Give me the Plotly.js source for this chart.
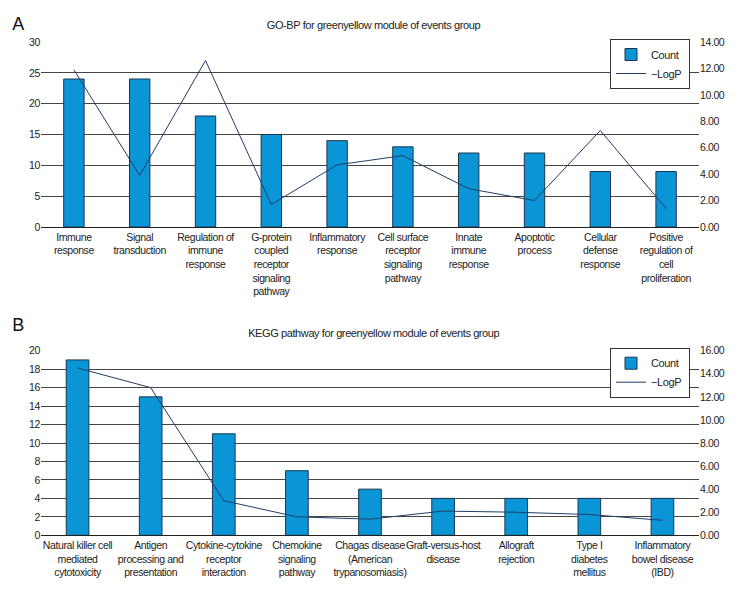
<!DOCTYPE html>
<html>
<head>
<meta charset="utf-8">
<script src="https://cdn.plot.ly/plotly-3.0.1.min.js"></script>
<style>
html,body{margin:0;padding:0;background:#fff;}
#chart{width:756px;height:600px;}
#chart svg text{letter-spacing:-0.4px;}
</style>
</head>
<body>
<div id="chart"></div>
<script>
// Panel A: GO-BP
const categoriesA = [
  "Immune<br>response",
  "Signal<br>transduction",
  "Regulation of<br>immune<br>response",
  "G-protein<br>coupled<br>receptor<br>signaling<br>pathway",
  "Inflammatory<br>response",
  "Cell surface<br>receptor<br>signaling<br>pathway",
  "Innate<br>immune<br>response",
  "Apoptotic<br>process",
  "Cellular<br>defense<br>response",
  "Positive<br>regulation of<br>cell<br>proliferation"
];
const countA = [24, 24, 18, 15, 14, 13, 12, 12, 9, 9];
const logPA = [11.9, 3.9, 12.6, 1.7, 4.7, 5.4, 2.9, 2.0, 7.3, 1.4];

// Panel B: KEGG
const categoriesB = [
  "Natural killer cell<br>mediated<br>cytotoxicity",
  "Antigen<br>processing and<br>presentation",
  "Cytokine-cytokine<br>receptor<br>interaction",
  "Chemokine<br>signaling<br>pathway",
  "Chagas disease<br>(American<br>trypanosomiasis)",
  "Graft-versus-host<br>disease",
  "Allograft<br>rejection",
  "Type I<br>diabetes<br>mellitus",
  "Inflammatory<br>bowel disease<br>(IBD)"
];
const countB = [19, 15, 11, 7, 5, 4, 4, 4, 4];
const logPB = [14.5, 12.8, 3.0, 1.6, 1.4, 2.1, 2.0, 1.8, 1.3];

const titleA = "GO-BP for greenyellow module of events group";
const titleB = "KEGG pathway for greenyellow module of events group";

const FONT = "Liberation Sans, Arial, sans-serif";
const barColor = "#0a96d6";
const barLine = "#1d3550";
const lineColor = "#1f3d66";
const gridColor = "#444";

const traces = [
  {type: "bar", x: categoriesA, y: countA, name: "Count", xaxis: "x", yaxis: "y",
   marker: {color: barColor, line: {color: barLine, width: 1}}, legend: "legend"},
  {type: "scatter", mode: "lines", x: categoriesA, y: logPA, name: "\u2212LogP", xaxis: "x", yaxis: "y2",
   line: {color: lineColor, width: 1}, legend: "legend"},
  {type: "bar", x: categoriesB, y: countB, name: "Count", xaxis: "x2", yaxis: "y3",
   marker: {color: barColor, line: {color: barLine, width: 1}}, legend: "legend2"},
  {type: "scatter", mode: "lines", x: categoriesB, y: logPB, name: "\u2212LogP", xaxis: "x2", yaxis: "y4",
   line: {color: lineColor, width: 1}, legend: "legend2"}
];

const xDom = [41/756, 699/756];
const yDomA = [1 - 227/600, 1 - 42/600];
const yDomB = [1 - 535.3/600, 1 - 350.7/600];

const tickFont = {family: FONT, size: 10.5, color: "#222"};
const baseY = {showgrid: true, gridcolor: gridColor, gridwidth: 1, zeroline: false,
  showline: false, ticks: "", tickfont: tickFont, automargin: false, fixedrange: true};
const baseX = {showgrid: false, zeroline: false, showline: true, linecolor: "#222", linewidth: 1,
  ticks: "", tickfont: tickFont, automargin: false, tickangle: 0, fixedrange: true};

const legendBase = {bgcolor: "#fff", bordercolor: "#333", borderwidth: 1,
  font: {family: FONT, size: 11, color: "#222"}, xanchor: "right", yanchor: "top",
  tracegroupgap: 0, itemwidth: 30};

const layout = {
  width: 756, height: 600,
  margin: {l: 0, r: 0, t: 0, b: 0},
  paper_bgcolor: "#fff", plot_bgcolor: "#fff",
  font: {family: FONT, size: 11, color: "#222"},
  bargap: 0.69,
  xaxis: Object.assign({}, baseX, {domain: xDom, anchor: "y"}),
  yaxis: Object.assign({}, baseY, {domain: yDomA, anchor: "x", range: [0, 30], dtick: 5}),
  yaxis2: Object.assign({}, baseY, {overlaying: "y", side: "right", anchor: "x", showgrid: false,
    range: [0, 14], dtick: 2, tickformat: ".2f"}),
  xaxis2: Object.assign({}, baseX, {domain: xDom, anchor: "y3"}),
  yaxis3: Object.assign({}, baseY, {domain: yDomB, anchor: "x2", range: [0, 20], dtick: 2}),
  yaxis4: Object.assign({}, baseY, {overlaying: "y3", side: "right", anchor: "x2", showgrid: false,
    range: [0, 16], dtick: 2, tickformat: ".2f"}),
  legend: Object.assign({}, legendBase, {x: 690/756, y: 1 - 39/600}),
  legend2: Object.assign({}, legendBase, {x: 690/756, y: 1 - 347.7/600}),
  annotations: [
    {text: "A", xref: "paper", yref: "paper", x: 10/756, y: 1 - 12/600, xanchor: "left", yanchor: "top",
     showarrow: false, font: {family: FONT, size: 18, color: "#111"}},
    {text: "B", xref: "paper", yref: "paper", x: 10/756, y: 1 - 313/600, xanchor: "left", yanchor: "top",
     showarrow: false, font: {family: FONT, size: 18, color: "#111"}},
    {text: titleA, xref: "paper", yref: "paper", x: 373/756, y: 1 - 25/600, xanchor: "center", yanchor: "middle",
     showarrow: false, font: {family: FONT, size: 11, color: "#222"}},
    {text: titleB, xref: "paper", yref: "paper", x: 373/756, y: 1 - 333/600, xanchor: "center", yanchor: "middle",
     showarrow: false, font: {family: FONT, size: 11, color: "#222"}}
  ]
};

Plotly.newPlot("chart", traces, layout, {displayModeBar: false, staticPlot: true});
</script>
</body>
</html>
